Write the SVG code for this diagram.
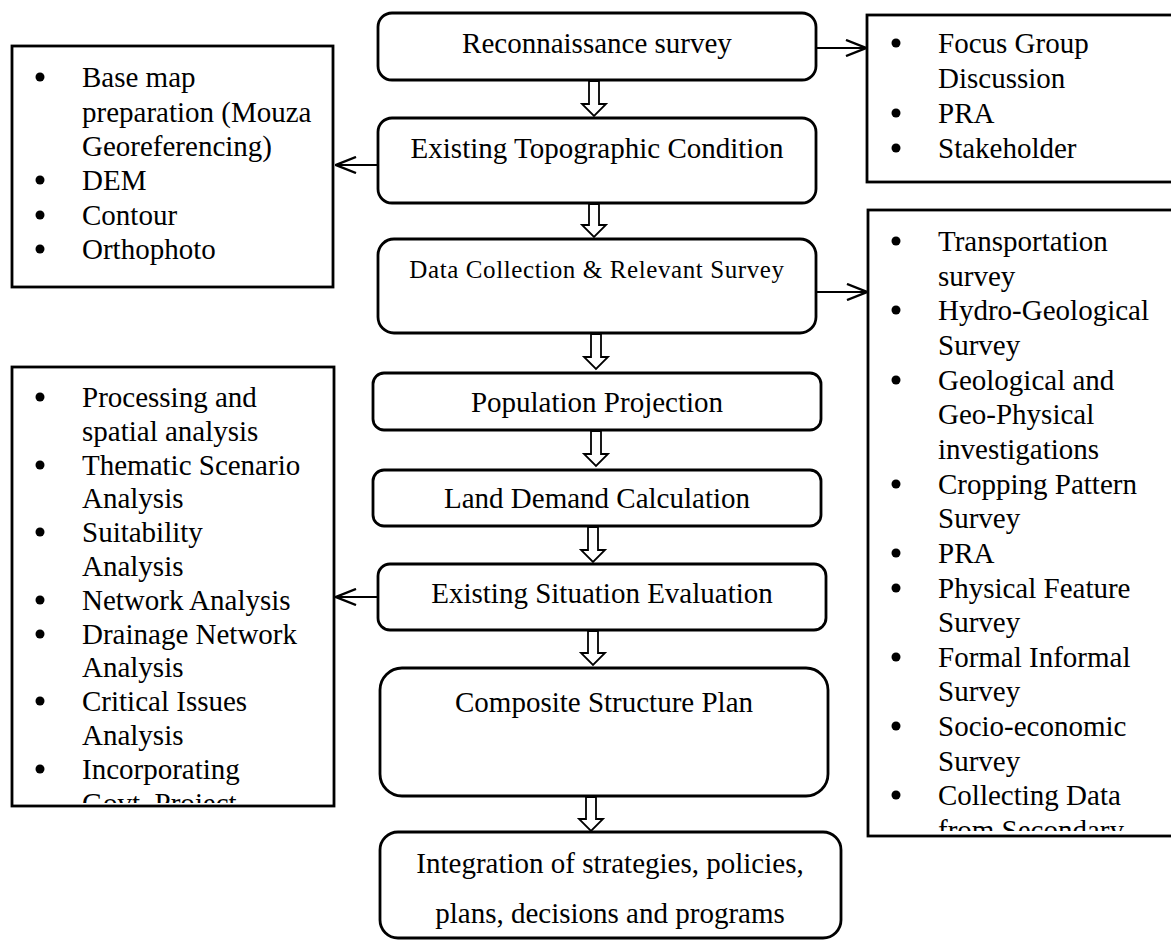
<svg xmlns="http://www.w3.org/2000/svg" width="1171" height="941" viewBox="0 0 1171 941">
<style>
text{font-family:"Liberation Serif","Times New Roman",serif;font-size:29px;fill:#000}
.c{text-anchor:middle}
.box{fill:#fff;stroke:#000;stroke-width:2.8}
.side{fill:#fff;stroke:#000;stroke-width:2.8}
.harrow{fill:#fff;stroke:#000;stroke-width:1.8;stroke-linejoin:miter}
.line{fill:none;stroke:#000;stroke-width:2.2}
.dot{fill:#000}
</style>
<defs>
<marker id="open" markerUnits="userSpaceOnUse" viewBox="0 0 22 18" refX="21" refY="9" markerWidth="22" markerHeight="18" orient="auto">
<path d="M1,1 L21,9 L1,17" fill="none" stroke="#000" stroke-width="2.4"/>
</marker>
<clipPath id="clipL2"><rect x="12" y="367" width="322" height="436"/></clipPath>
<clipPath id="clipR2"><rect x="868" y="210" width="310" height="621"/></clipPath>
</defs>
<rect width="1171" height="941" fill="#fff"/>

<g id="connectors">
<line class="line" x1="816" y1="48" x2="866" y2="48" marker-end="url(#open)"/>
<line class="line" x1="378" y1="165" x2="336" y2="165" marker-end="url(#open)"/>
<line class="line" x1="816" y1="292" x2="867" y2="292" marker-end="url(#open)"/>
<line class="line" x1="378" y1="597" x2="336" y2="597" marker-end="url(#open)"/>
<polygon class="harrow" points="589,81 599,81 599,104 606,104 594,116 582,104 589,104"/>
<polygon class="harrow" points="589,204 599,204 599,225 606,225 594,237 582,225 589,225"/>
<polygon class="harrow" points="591,334 601,334 601,357 608,357 596,369 584,357 591,357"/>
<polygon class="harrow" points="591,431 601,431 601,454 608,454 596,466 584,454 591,454"/>
<polygon class="harrow" points="588,527 598,527 598,550 605,550 593,562 581,550 588,550"/>
<polygon class="harrow" points="588,631 598,631 598,653 605,653 593,665 581,653 588,653"/>
<polygon class="harrow" points="586,797 596,797 596,819 603,819 591,831 579,819 586,819"/>
</g>

<g id="n1">
<rect class="box" x="378" y="13" width="438" height="67" rx="14"/>
<text class="c" x="597" y="53">Reconnaissance survey</text>
</g>
<g id="n2">
<rect class="box" x="378" y="118" width="438" height="85" rx="14"/>
<text class="c" x="597" y="158">Existing Topographic Condition</text>
</g>
<g id="n3">
<rect class="box" x="378" y="239" width="438" height="94" rx="16"/>
<text class="c" x="597" y="278" style="font-size:25px;letter-spacing:0.6px">Data Collection &amp; Relevant Survey</text>
</g>
<g id="n4">
<rect class="box" x="373" y="373" width="448" height="57" rx="11"/>
<text class="c" x="597" y="412">Population Projection</text>
</g>
<g id="n5">
<rect class="box" x="373" y="470" width="448" height="56" rx="11"/>
<text class="c" x="597" y="508">Land Demand Calculation</text>
</g>
<g id="n6">
<rect class="box" x="378" y="564" width="448" height="66" rx="12"/>
<text class="c" x="602" y="603">Existing Situation Evaluation</text>
</g>
<g id="n7">
<rect class="box" x="380" y="668" width="448" height="128" rx="22"/>
<text class="c" x="604" y="712">Composite Structure Plan</text>
</g>
<g id="n8">
<rect class="box" x="380" y="832" width="461" height="106" rx="18"/>
<text class="c" x="610" y="873">Integration of strategies, policies,</text>
<text class="c" x="610" y="923">plans, decisions and programs</text>
</g>

<g id="left1">
<rect class="side" x="12" y="46" width="321" height="241"/>
<circle class="dot" cx="40" cy="77" r="4.5"/>
<text x="82" y="87">Base map</text>
<text x="82" y="122">preparation (Mouza</text>
<text x="82" y="156">Georeferencing)</text>
<circle class="dot" cx="40" cy="180" r="4.5"/>
<text x="82" y="190">DEM</text>
<circle class="dot" cx="40" cy="215" r="4.5"/>
<text x="82" y="225">Contour</text>
<circle class="dot" cx="40" cy="249" r="4.5"/>
<text x="82" y="259">Orthophoto</text>
</g>

<g id="right1">
<rect class="side" x="867" y="15" width="310" height="167"/>
<circle class="dot" cx="896" cy="43" r="4.5"/>
<text x="938" y="53">Focus Group</text>
<text x="938" y="88">Discussion</text>
<circle class="dot" cx="896" cy="113" r="4.5"/>
<text x="938" y="123">PRA</text>
<circle class="dot" cx="896" cy="148" r="4.5"/>
<text x="938" y="158">Stakeholder</text>
</g>

<g id="left2">
<rect class="side" x="12" y="367" width="322" height="439"/>
<g clip-path="url(#clipL2)">
<circle class="dot" cx="40" cy="397" r="4.5"/>
<text x="82" y="407">Processing and</text>
<text x="82" y="441">spatial analysis</text>
<circle class="dot" cx="40" cy="465" r="4.5"/>
<text x="82" y="475">Thematic Scenario</text>
<text x="82" y="508">Analysis</text>
<circle class="dot" cx="40" cy="532" r="4.5"/>
<text x="82" y="542">Suitability</text>
<text x="82" y="576">Analysis</text>
<circle class="dot" cx="40" cy="600" r="4.5"/>
<text x="82" y="610">Network Analysis</text>
<circle class="dot" cx="40" cy="634" r="4.5"/>
<text x="82" y="644">Drainage Network</text>
<text x="82" y="677">Analysis</text>
<circle class="dot" cx="40" cy="701" r="4.5"/>
<text x="82" y="711">Critical Issues</text>
<text x="82" y="745">Analysis</text>
<circle class="dot" cx="40" cy="769" r="4.5"/>
<text x="82" y="779">Incorporating</text>
<text x="82" y="813">Govt. Project</text>
</g>
</g>

<g id="right2">
<rect class="side" x="868" y="210" width="310" height="626"/>
<g clip-path="url(#clipR2)">
<circle class="dot" cx="896" cy="241" r="4.5"/>
<text x="938" y="251">Transportation</text>
<text x="938" y="286">survey</text>
<circle class="dot" cx="896" cy="310" r="4.5"/>
<text x="938" y="320">Hydro-Geological</text>
<text x="938" y="355">Survey</text>
<circle class="dot" cx="896" cy="380" r="4.5"/>
<text x="938" y="390">Geological and</text>
<text x="938" y="424">Geo-Physical</text>
<text x="938" y="459">investigations</text>
<circle class="dot" cx="896" cy="484" r="4.5"/>
<text x="938" y="494">Cropping Pattern</text>
<text x="938" y="528">Survey</text>
<circle class="dot" cx="896" cy="553" r="4.5"/>
<text x="938" y="563">PRA</text>
<circle class="dot" cx="896" cy="588" r="4.5"/>
<text x="938" y="598">Physical Feature</text>
<text x="938" y="632">Survey</text>
<circle class="dot" cx="896" cy="657" r="4.5"/>
<text x="938" y="667">Formal Informal</text>
<text x="938" y="701">Survey</text>
<circle class="dot" cx="896" cy="726" r="4.5"/>
<text x="938" y="736">Socio-economic</text>
<text x="938" y="771">Survey</text>
<circle class="dot" cx="896" cy="795" r="4.5"/>
<text x="938" y="805">Collecting Data</text>
<text x="938" y="840">from Secondary</text>
</g>
</g>
</svg>
